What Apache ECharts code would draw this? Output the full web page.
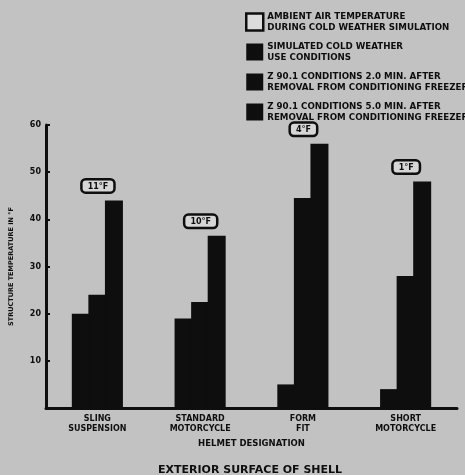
<!DOCTYPE html>
<html><head><meta charset="utf-8">
<script src="https://cdn.jsdelivr.net/npm/echarts@6/dist/echarts.min.js"></script>
<style>html,body{margin:0;padding:0;background:#c2c2c2;}#c{width:465px;height:475px;}</style>
</head><body><div id="c"></div>
<script>
var categories = ['SLING\nSUSPENSION', 'STANDARD\nMOTORCYCLE', 'FORM\nFIT', 'SHORT\nMOTORCYCLE'];
var ambientF = [11, 10, 4, 1];
var simulatedUse = [20, 19, 5, 4];
var z901After2 = [24, 22.5, 44.5, 28];
var z901After5 = [44, 36.5, 56, 48];
var seriesNames = [
  'AMBIENT AIR TEMPERATURE\nDURING COLD WEATHER SIMULATION',
  'SIMULATED COLD WEATHER\nUSE CONDITIONS',
  'Z 90.1 CONDITIONS 2.0 MIN. AFTER\nREMOVAL FROM CONDITIONING FREEZER',
  'Z 90.1 CONDITIONS 5.0 MIN. AFTER\nREMOVAL FROM CONDITIONING FREEZER'
];
var yTicks = [0, 10, 20, 30, 40, 50, 60];

var ink = '#0e0e0e';
var ff = 'DejaVu Sans';
var barStyle = {color: ink};
var chart = echarts.init(document.getElementById('c'));
chart.setOption({
  backgroundColor: '#c2c2c2',
  animation: false,
  textStyle: {fontFamily: ff, color: ink, fontWeight: 'bold'},
  title: {
    text: 'EXTERIOR SURFACE OF SHELL',
    left: 153, top: 460,
    textStyle: {fontFamily: ff, fontSize: 11, fontWeight: 'bold', color: ink}
  },
  legend: {
    orient: 'vertical', left: 240, top: 6,
    itemWidth: 17, itemHeight: 17, itemGap: 8,
    icon: 'rect',
    textStyle: {fontFamily: ff, fontSize: 8.7, fontWeight: 'bold', color: ink, lineHeight: 11, padding: [0,0,0,-1]},
    data: [
      {name: seriesNames[0], itemStyle: {color: '#dcdcdc', borderColor: ink, borderWidth: 2.5}},
      {name: seriesNames[1]},
      {name: seriesNames[2]},
      {name: seriesNames[3]}
    ]
  },
  grid: {left: 45, right: 8, top: 125, bottom: 67},
  xAxis: {
    type: 'category', data: categories,
    name: 'HELMET DESIGNATION', nameLocation: 'middle', nameGap: 28,
    nameTextStyle: {fontFamily: ff, fontSize: 8.5, fontWeight: 'bold', color: ink},
    axisLine: {lineStyle: {color: ink, width: 3}},
    axisTick: {show: false},
    axisLabel: {fontFamily: ff, fontSize: 8, fontWeight: 'bold', color: ink, lineHeight: 10, margin: 6, interval: 0}
  },
  yAxis: {
    type: 'value', min: yTicks[0], max: yTicks[yTicks.length-1], interval: 10,
    name: 'STRUCTURE TEMPERATURE IN °F', nameLocation: 'middle', nameGap: 31, nameRotate: 90,
    nameTextStyle: {fontFamily: ff, fontSize: 6.5, fontWeight: 'bold', color: ink},
    axisLine: {show: true, lineStyle: {color: ink, width: 3}},
    axisTick: {show: true, inside: true, length: 4, lineStyle: {color: ink, width: 2}},
    splitLine: {show: false},
    axisLabel: {fontFamily: ff, fontSize: 8, fontWeight: 'bold', color: ink, margin: 5,
      formatter: function(v){ return v === 0 ? '' : String(v); }}
  },
  series: [
    {name: seriesNames[0], type: 'bar', data: [], itemStyle: {color: '#dcdcdc'}},
    {name: seriesNames[1], type: 'bar', data: simulatedUse, barWidth: 18, barGap: '-8%', itemStyle: barStyle},
    {name: seriesNames[2], type: 'bar', data: z901After2, barWidth: 18, barGap: '-8%', itemStyle: barStyle},
    {name: seriesNames[3], type: 'bar', data: z901After5, barWidth: 18, barGap: '-8%', itemStyle: barStyle,
      label: {
        show: true, position: 'top', distance: 9, offset: [-16, 0],
        formatter: function(p){ return ambientF[p.dataIndex] + '°F'; },
        fontFamily: ff, fontSize: 8, fontWeight: 'bold', color: ink,
        backgroundColor: '#d6d6d6', borderColor: ink, borderWidth: 2.5, borderRadius: 3,
        padding: [2, 5, 1, 5]
      }}
  ]
});
</script>
</body></html>
